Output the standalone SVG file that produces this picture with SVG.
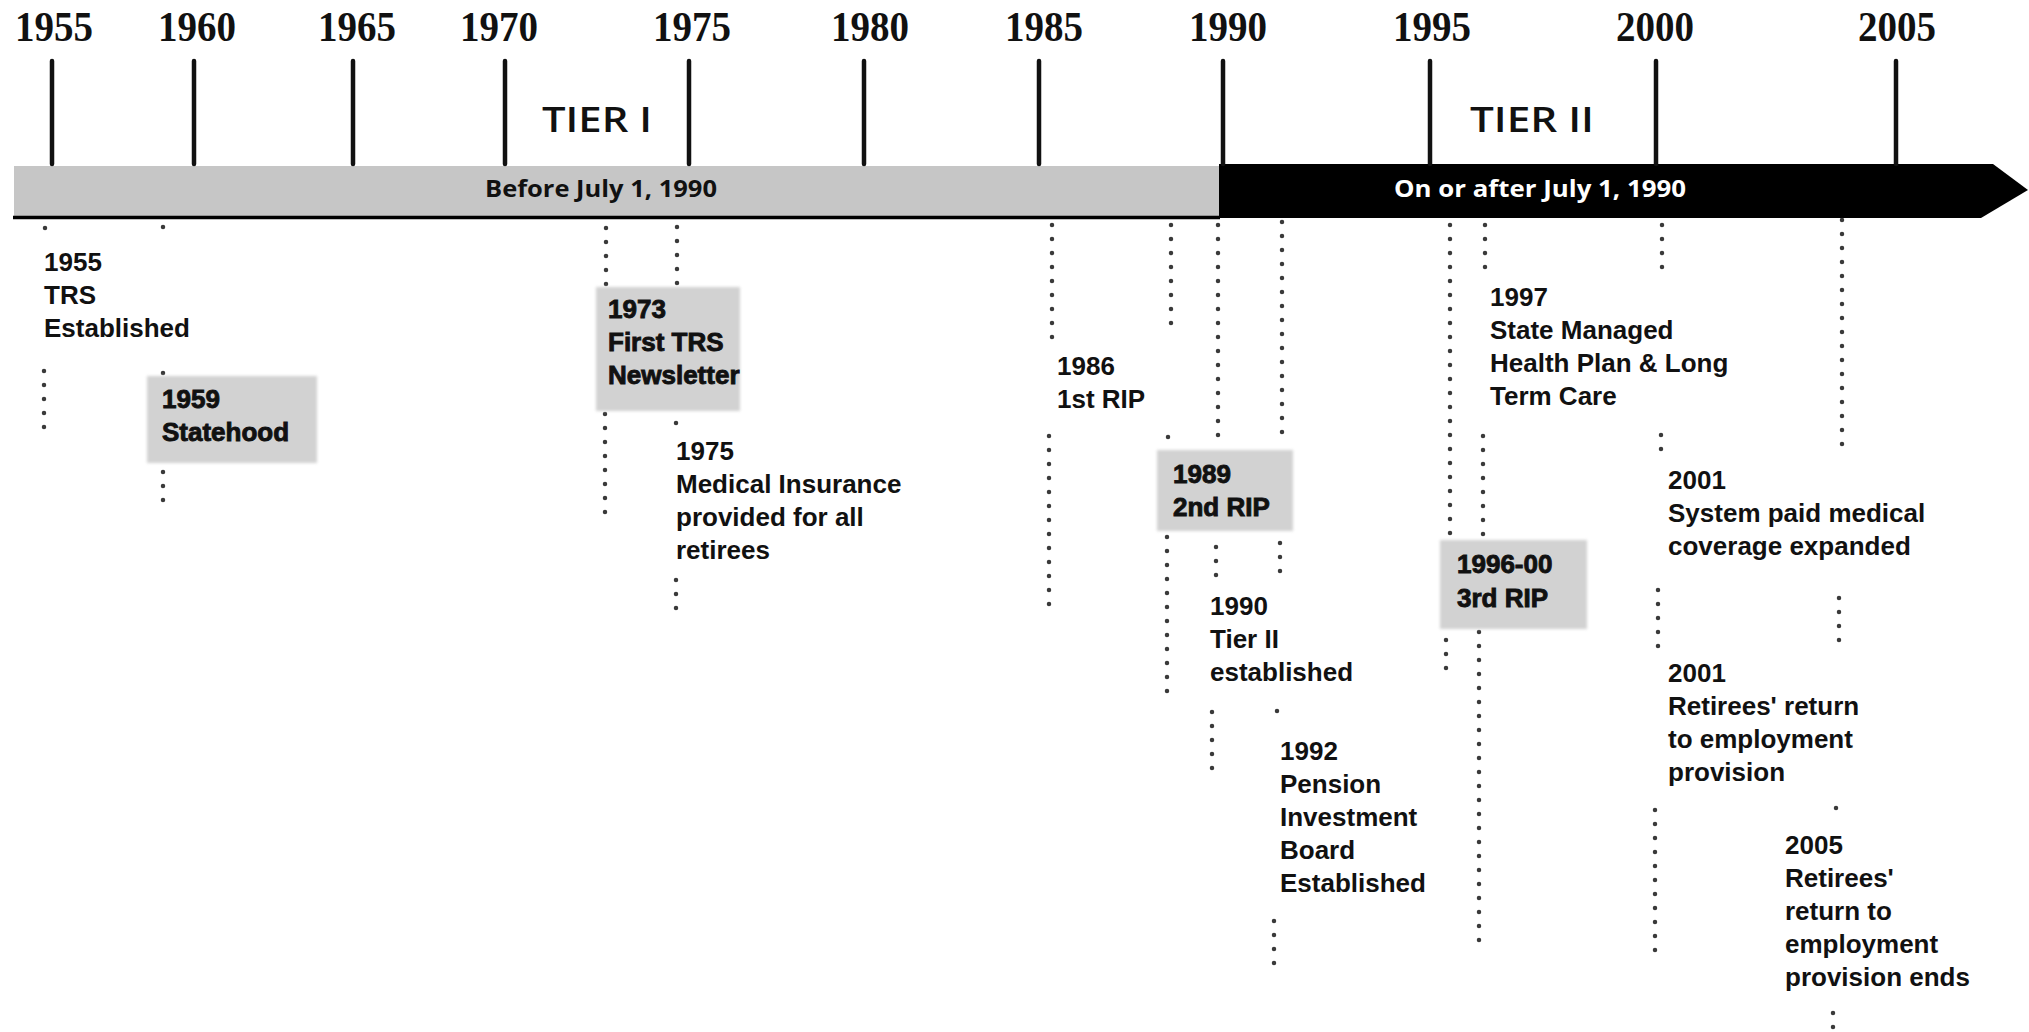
<svg xmlns="http://www.w3.org/2000/svg" width="2029" height="1032" viewBox="0 0 2029 1032">
<defs>
<filter id="soft" x="-5%" y="-5%" width="110%" height="110%"><feGaussianBlur stdDeviation="1.5"/></filter>
<style>
.yr{font-family:"Liberation Serif","Times New Roman",serif;font-weight:bold;font-size:43px;fill:#111;text-anchor:middle}
.tick{stroke:#111;stroke-width:4.5;stroke-linecap:round}
.tier{font-family:"Open Sans","Liberation Sans",sans-serif;font-weight:600;font-size:34px;fill:#111}
.bar{font-family:"Open Sans","Liberation Sans",sans-serif;font-weight:bold;font-size:23px}
.ev{font-family:"Liberation Sans",Arial,sans-serif;font-weight:bold;font-size:26px;fill:#111}
.evb{font-family:"Liberation Sans",Arial,sans-serif;font-weight:bold;font-size:26px;fill:#111;stroke:#111;stroke-width:0.9}
.box{fill:#d2d2d2;filter:url(#soft)}
.dot{stroke:#3a3a3a;stroke-width:4.5;stroke-linecap:round;stroke-dasharray:0 14;fill:none}
</style>
</defs>
<rect width="2029" height="1032" fill="#ffffff"/>

<g id="axis">
<rect x="14" y="166" width="1206" height="51" fill="#c6c6c6"/>
<polygon points="1219,164 1993,164 2028,190 1981,218 1219,218" fill="#000"/>
<line x1="13" y1="217.5" x2="1220" y2="217.5" stroke="#000" stroke-width="3.5"/>
<text class="bar" x="485" y="197" fill="#111" textLength="232" lengthAdjust="spacingAndGlyphs">Before July 1, 1990</text>
<text class="bar" x="1394" y="197" fill="#fff" textLength="292" lengthAdjust="spacingAndGlyphs">On or after  July 1, 1990</text>
<text class="tier" x="542" y="132" textLength="110" lengthAdjust="spacingAndGlyphs">TIER I</text>
<text class="tier" x="1470" y="132" textLength="124" lengthAdjust="spacingAndGlyphs">TIER II</text>
<g id="ticks">
<line class="tick" x1="52" y1="61" x2="52" y2="164"/>
<line class="tick" x1="194" y1="61" x2="194" y2="164"/>
<line class="tick" x1="353" y1="61" x2="353" y2="164"/>
<line class="tick" x1="505" y1="61" x2="505" y2="164"/>
<line class="tick" x1="689" y1="61" x2="689" y2="164"/>
<line class="tick" x1="864" y1="61" x2="864" y2="164"/>
<line class="tick" x1="1039" y1="61" x2="1039" y2="164"/>
<line class="tick" x1="1223" y1="61" x2="1223" y2="164"/>
<line class="tick" x1="1430" y1="61" x2="1430" y2="164"/>
<line class="tick" x1="1656" y1="61" x2="1656" y2="164"/>
<line class="tick" x1="1896" y1="61" x2="1896" y2="164"/>
</g>
<g id="years">
<text class="yr" x="54" y="41" textLength="78" lengthAdjust="spacingAndGlyphs">1955</text>
<text class="yr" x="197" y="41" textLength="78" lengthAdjust="spacingAndGlyphs">1960</text>
<text class="yr" x="357" y="41" textLength="78" lengthAdjust="spacingAndGlyphs">1965</text>
<text class="yr" x="499" y="41" textLength="78" lengthAdjust="spacingAndGlyphs">1970</text>
<text class="yr" x="692" y="41" textLength="78" lengthAdjust="spacingAndGlyphs">1975</text>
<text class="yr" x="870" y="41" textLength="78" lengthAdjust="spacingAndGlyphs">1980</text>
<text class="yr" x="1044" y="41" textLength="78" lengthAdjust="spacingAndGlyphs">1985</text>
<text class="yr" x="1228" y="41" textLength="78" lengthAdjust="spacingAndGlyphs">1990</text>
<text class="yr" x="1432" y="41" textLength="78" lengthAdjust="spacingAndGlyphs">1995</text>
<text class="yr" x="1655" y="41" textLength="78" lengthAdjust="spacingAndGlyphs">2000</text>
<text class="yr" x="1897" y="41" textLength="78" lengthAdjust="spacingAndGlyphs">2005</text>
</g>
</g>

<g id="connectors">
<line class="dot" x1="45" y1="228" x2="45" y2="229"/>
<line class="dot" x1="44" y1="371" x2="44" y2="428"/>
<line class="dot" x1="163" y1="227" x2="163" y2="228"/>
<line class="dot" x1="163" y1="373" x2="163" y2="374"/>
<line class="dot" x1="163" y1="472" x2="163" y2="503"/>
<line class="dot" x1="606" y1="228" x2="606" y2="285"/>
<line class="dot" x1="605" y1="414" x2="605" y2="513"/>
<line class="dot" x1="677" y1="227" x2="677" y2="284"/>
<line class="dot" x1="676" y1="423" x2="676" y2="424"/>
<line class="dot" x1="676" y1="580" x2="676" y2="609"/>
<line class="dot" x1="1052" y1="225" x2="1052" y2="338"/>
<line class="dot" x1="1049" y1="436" x2="1049" y2="605"/>
<line class="dot" x1="1171" y1="225" x2="1171" y2="328"/>
<line class="dot" x1="1168" y1="437" x2="1168" y2="438"/>
<line class="dot" x1="1167" y1="537" x2="1167" y2="694"/>
<line class="dot" x1="1218" y1="225" x2="1218" y2="436"/>
<line class="dot" x1="1216" y1="547" x2="1216" y2="576"/>
<line class="dot" x1="1212" y1="712" x2="1212" y2="769"/>
<line class="dot" x1="1282" y1="222" x2="1282" y2="446"/>
<line class="dot" x1="1280" y1="543" x2="1280" y2="572"/>
<line class="dot" x1="1277" y1="711" x2="1277" y2="712"/>
<line class="dot" x1="1274" y1="921" x2="1274" y2="964"/>
<line class="dot" x1="1450" y1="225" x2="1450" y2="534"/>
<line class="dot" x1="1446" y1="640" x2="1446" y2="669"/>
<line class="dot" x1="1485" y1="225" x2="1485" y2="268"/>
<line class="dot" x1="1483" y1="436" x2="1483" y2="535"/>
<line class="dot" x1="1479" y1="632" x2="1479" y2="951"/>
<line class="dot" x1="1662" y1="225" x2="1662" y2="268"/>
<line class="dot" x1="1661" y1="435" x2="1661" y2="450"/>
<line class="dot" x1="1658" y1="590" x2="1658" y2="647"/>
<line class="dot" x1="1655" y1="810" x2="1655" y2="953"/>
<line class="dot" x1="1842" y1="220" x2="1842" y2="448"/>
<line class="dot" x1="1839" y1="598" x2="1839" y2="643"/>
<line class="dot" x1="1836" y1="808" x2="1836" y2="809"/>
<line class="dot" x1="1833" y1="1013" x2="1833" y2="1028"/>
</g>

<g id="ev1955">
<text class="ev" x="44"><tspan x="44" y="271">1955</tspan><tspan x="44" y="304">TRS</tspan><tspan x="44" y="337">Established</tspan></text>
</g>
<g id="ev1959">
<rect class="box" x="147" y="376" width="170" height="87"/>
<text class="evb"><tspan x="162" y="408">1959</tspan><tspan x="162" y="441">Statehood</tspan></text>
</g>
<g id="ev1973">
<rect class="box" x="596" y="287" width="144" height="124"/>
<text class="evb"><tspan x="608" y="318">1973</tspan><tspan x="608" y="351">First TRS</tspan><tspan x="608" y="384">Newsletter</tspan></text>
</g>
<g id="ev1975">
<text class="ev"><tspan x="676" y="460">1975</tspan><tspan x="676" y="493">Medical Insurance</tspan><tspan x="676" y="526">provided for all</tspan><tspan x="676" y="559">retirees</tspan></text>
</g>
<g id="ev1986">
<text class="ev"><tspan x="1057" y="375">1986</tspan><tspan x="1057" y="408">1st RIP</tspan></text>
</g>
<g id="ev1989">
<rect class="box" x="1157" y="450" width="136" height="81"/>
<text class="evb"><tspan x="1173" y="483">1989</tspan><tspan x="1173" y="516">2nd RIP</tspan></text>
</g>
<g id="ev1990">
<text class="ev"><tspan x="1210" y="615">1990</tspan><tspan x="1210" y="648">Tier II</tspan><tspan x="1210" y="681">established</tspan></text>
</g>
<g id="ev1992">
<text class="ev"><tspan x="1280" y="760">1992</tspan><tspan x="1280" y="793">Pension</tspan><tspan x="1280" y="826">Investment</tspan><tspan x="1280" y="859">Board</tspan><tspan x="1280" y="892">Established</tspan></text>
</g>
<g id="ev1996">
<rect class="box" x="1440" y="540" width="147" height="89"/>
<text class="evb"><tspan x="1457" y="573">1996-00</tspan><tspan x="1457" y="607">3rd RIP</tspan></text>
</g>
<g id="ev1997">
<text class="ev"><tspan x="1490" y="306">1997</tspan><tspan x="1490" y="339">State Managed</tspan><tspan x="1490" y="372">Health Plan &amp; Long</tspan><tspan x="1490" y="405">Term Care</tspan></text>
</g>
<g id="ev2001a">
<text class="ev"><tspan x="1668" y="489">2001</tspan><tspan x="1668" y="522">System paid medical</tspan><tspan x="1668" y="555">coverage expanded</tspan></text>
</g>
<g id="ev2001b">
<text class="ev"><tspan x="1668" y="682">2001</tspan><tspan x="1668" y="715">Retirees' return</tspan><tspan x="1668" y="748">to employment</tspan><tspan x="1668" y="781">provision</tspan></text>
</g>
<g id="ev2005">
<text class="ev"><tspan x="1785" y="854">2005</tspan><tspan x="1785" y="887">Retirees'</tspan><tspan x="1785" y="920">return to</tspan><tspan x="1785" y="953">employment</tspan><tspan x="1785" y="986">provision ends</tspan></text>
</g>
</svg>
